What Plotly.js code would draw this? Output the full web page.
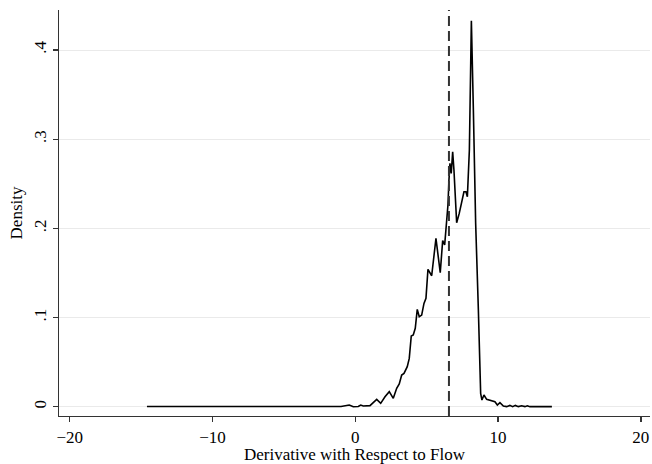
<!DOCTYPE html>
<html>
<head>
<meta charset="utf-8">
<script src="https://cdn.plot.ly/plotly-3.0.1.min.js"></script>
<style>html,body{margin:0;padding:0;background:#fff;}#chart{width:652px;height:464px;}</style>
</head>
<body>
<div id="chart"></div>
<script>
// Density curve points
var derivX = [-14.59, -12, -9, -6, -3, -1, -0.42, -0.14, 0.21, 0.38, 0.56, 1.03, 1.50, 1.78, 2.08, 2.38, 2.66, 2.90, 3.08, 3.25, 3.41, 3.64, 3.78, 3.92, 4.06, 4.20, 4.34, 4.48, 4.65, 4.81, 4.95, 5.09, 5.35, 5.65, 5.95, 6.12, 6.26, 6.40, 6.49, 6.56, 6.63, 6.72, 6.82, 6.91, 7.10, 7.28, 7.45, 7.61, 7.75, 7.85, 7.99, 8.13, 8.27, 8.43, 8.62, 8.78, 8.87, 9.01, 9.20, 9.55, 9.78, 9.95, 10.13, 10.37, 10.60, 10.83, 11.02, 11.21, 11.42, 11.65, 11.88, 12.05, 12.23, 12.70, 13.77];
var densityY = [0.0002, 0.0002, 0.0002, 0.0002, 0.0002, 0.0003, 0.0019, 0.0000, 0.0002, 0.0019, 0.0008, 0.0012, 0.0083, 0.0038, 0.0112, 0.0169, 0.0094, 0.0206, 0.0255, 0.0355, 0.0374, 0.0449, 0.0542, 0.0793, 0.0804, 0.0879, 0.1092, 0.1009, 0.1028, 0.1159, 0.1215, 0.1541, 0.1469, 0.1888, 0.1503, 0.1863, 0.1815, 0.2131, 0.2262, 0.2542, 0.2729, 0.2617, 0.2860, 0.2654, 0.2063, 0.2168, 0.2280, 0.2411, 0.2411, 0.2355, 0.2879, 0.4329, 0.3326, 0.2056, 0.1084, 0.0150, 0.0075, 0.0131, 0.0083, 0.0068, 0.0056, 0.0019, 0.0045, 0.0008, 0.0001, 0.0015, 0.0001, 0.0015, 0.0001, 0.0011, 0.0001, 0.0011, 0.0001, 0.0001, 0.0001];
var refLineX = 6.56;
var xTickVals = [-20, -10, 0, 10, 20];
var xTickText = ["\u221220", "\u221210", "0", "10", "20"];
var yTickVals = [0, 0.1, 0.2, 0.3, 0.4];
var yTickText = ["0", ".1", ".2", ".3", ".4"];
var xTitle = "Derivative with Respect to Flow";
var yTitle = "Density";

var font = {family: "Liberation Serif, Times New Roman, serif", size: 17, color: "#000"};

var trace = {
  x: derivX, y: densityY, type: "scatter", mode: "lines",
  line: {color: "#000", width: 1.6}, hoverinfo: "skip"
};

var layout = {
  width: 652, height: 464,
  margin: {l: 59, r: 2, t: 10, b: 48},
  paper_bgcolor: "#fff", plot_bgcolor: "#fff",
  font: font,
  showlegend: false,
  xaxis: {
    range: [-20.75, 20.64], tickmode: "array", tickvals: xTickVals, ticktext: xTickText,
    showgrid: false, zeroline: false, showline: true, linecolor: "#333", linewidth: 1.3,
    ticks: "outside", ticklen: 5, tickcolor: "#333", tickwidth: 1.3,
    tickfont: font,
    title: {text: xTitle, font: font, standoff: 1}
  },
  yaxis: {
    range: [-0.0104, 0.4449], tickmode: "array", tickvals: yTickVals, ticktext: yTickText,
    showgrid: true, gridcolor: "#eaeaea", gridwidth: 1, zeroline: false,
    showline: true, linecolor: "#333", linewidth: 1.3,
    ticks: "outside", ticklen: 5, tickcolor: "#333", tickwidth: 1.3,
    tickangle: -90, tickfont: font,
    title: {text: yTitle, font: font, standoff: 4}
  },
  shapes: [{
    type: "line", xref: "x", yref: "paper", x0: refLineX, x1: refLineX, y0: 0, y1: 1,
    line: {color: "#333", width: 2, dash: "10px,5px"}
  }]
};

Plotly.newPlot("chart", [trace], layout, {staticPlot: true, displayModeBar: false});
</script>
</body>
</html>
